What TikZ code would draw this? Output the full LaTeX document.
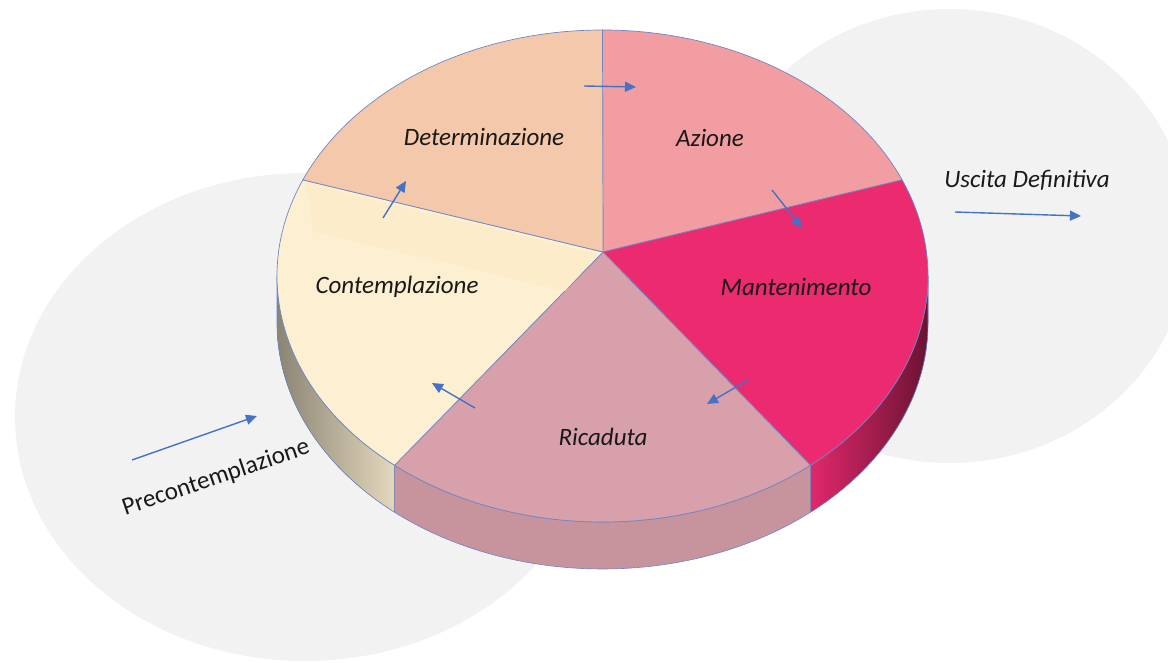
\documentclass[tikz,border=0pt]{standalone}
\usepackage{fontspec}
\setmainfont{Carlito}
\usetikzlibrary{arrows.meta}

\definecolor{bggrey}{HTML}{F2F2F2}
\definecolor{azione}{HTML}{F29DA1}
\definecolor{manten}{HTML}{EC2A70}
\definecolor{ricad}{HTML}{D8A0AA}
\definecolor{contem}{HTML}{FDF0D2}
\definecolor{determ}{HTML}{F4C8AA}
\definecolor{rimblue}{HTML}{6F86C6}
\definecolor{flowblue}{HTML}{4472C4}

\begin{document}
\begin{tikzpicture}
			[x=1pt, y=-1pt,
			 every node/.style={font=\fontsize{25}{28}\selectfont\itshape, text=black!90},
			 slice/.style={draw=rimblue, line width=0.7pt, line join=round},
			 wall/.style={draw=rimblue, line width=0.6pt, line join=round},
			 rim/.style={x radius=325.5, y radius=246},
			 flow/.style={draw=flowblue, line width=1.4pt, -{Triangle[length=11pt,width=10pt]}}]
			\useasboundingbox (0,0) rectangle (1168,663);
			\clip (0,0) rectangle (1168,663);

			\fill[bggrey] (305,417) ellipse [x radius=290, y radius=244];
			\fill[bggrey] (950,236) ellipse [x radius=240, y radius=227];

			\coordinate (c) at (602.5,276);
			\coordinate (v) at (603,252);
			\path (c) ++(0:325.5 and 246) coordinate (r0)
			      (c) ++(-90:325.5 and 246) coordinate (r1)
			      (c) ++(-23:325.5 and 246) coordinate (r2)
			      (c) ++(50.3:325.5 and 246) coordinate (r3)
			      (c) ++(129.7:325.5 and 246) coordinate (r4)
			      (c) ++(203:325.5 and 246) coordinate (r5);

			\filldraw[wall, left color=manten!95!black, right color=manten!45!black]
			  (r0) arc[rim, start angle=0, end angle=50.3] -- ++(0,47)
			  arc[rim, start angle=50.3, end angle=0] -- cycle;
			\filldraw[wall, fill=ricad!92!black]
			  (r3) arc[rim, start angle=50.3, end angle=129.7] -- ++(0,47)
			  arc[rim, start angle=129.7, end angle=50.3] -- cycle;
			\filldraw[wall, left color=contem!55!black, right color=contem!90!black]
			  (r4) arc[rim, start angle=129.7, end angle=180] -- ++(0,47)
			  arc[rim, start angle=180, end angle=129.7] -- cycle;

			\filldraw[slice, fill=azione] (v) -- (r1) arc[rim, start angle=-90, end angle=-23] -- cycle;
			\filldraw[slice, fill=manten] (v) -- (r2) arc[rim, start angle=-23, end angle=50.3] -- cycle;
			\filldraw[slice, fill=ricad] (v) -- (r3) arc[rim, start angle=50.3, end angle=129.7] -- cycle;
			\filldraw[slice, fill=contem] (v) -- (r4) arc[rim, start angle=129.7, end angle=203] -- cycle;
			\fill[contem!96!orange] (306,183) -- (598,254) -- (565,291) -- (313,232) -- cycle;
			\filldraw[slice, fill=determ] (v) -- (r5) arc[rim, start angle=203, end angle=270] -- cycle;

			\node (de) at (484,137) {Determinazione};
			\node (az) at (710,138) {Azione};
			\node (ma) at (796,287) {Mantenimento};
			\node (ri) at (603,437) {Ricaduta};
			\node (co) at (397,287) {Contemplazione};
			\node (us) at (1027,180) {Uscita Definitiva};
			\node (pr) at (216,478) [rotate=18.7, font=\fontsize{25}{28}\selectfont\upshape] {Precontemplazione};

			\coordinate (a1) at (584,86);  \coordinate (b1) at (636,87);
			\coordinate (a2) at (772,190); \coordinate (b2) at (802,228);
			\coordinate (a3) at (748,380); \coordinate (b3) at (707,404);
			\coordinate (a4) at (475,408); \coordinate (b4) at (432,383);
			\coordinate (a5) at (383,218); \coordinate (b5) at (406,181);
			\coordinate (a6) at (132,460); \coordinate (b6) at (257,416);
			\coordinate (a7) at (955,212); \coordinate (b7) at (1081,216);
			\foreach \i in {1,...,7}
			  \draw[flow] (a\i) -- (b\i);
		\end{tikzpicture}
\end{document}
